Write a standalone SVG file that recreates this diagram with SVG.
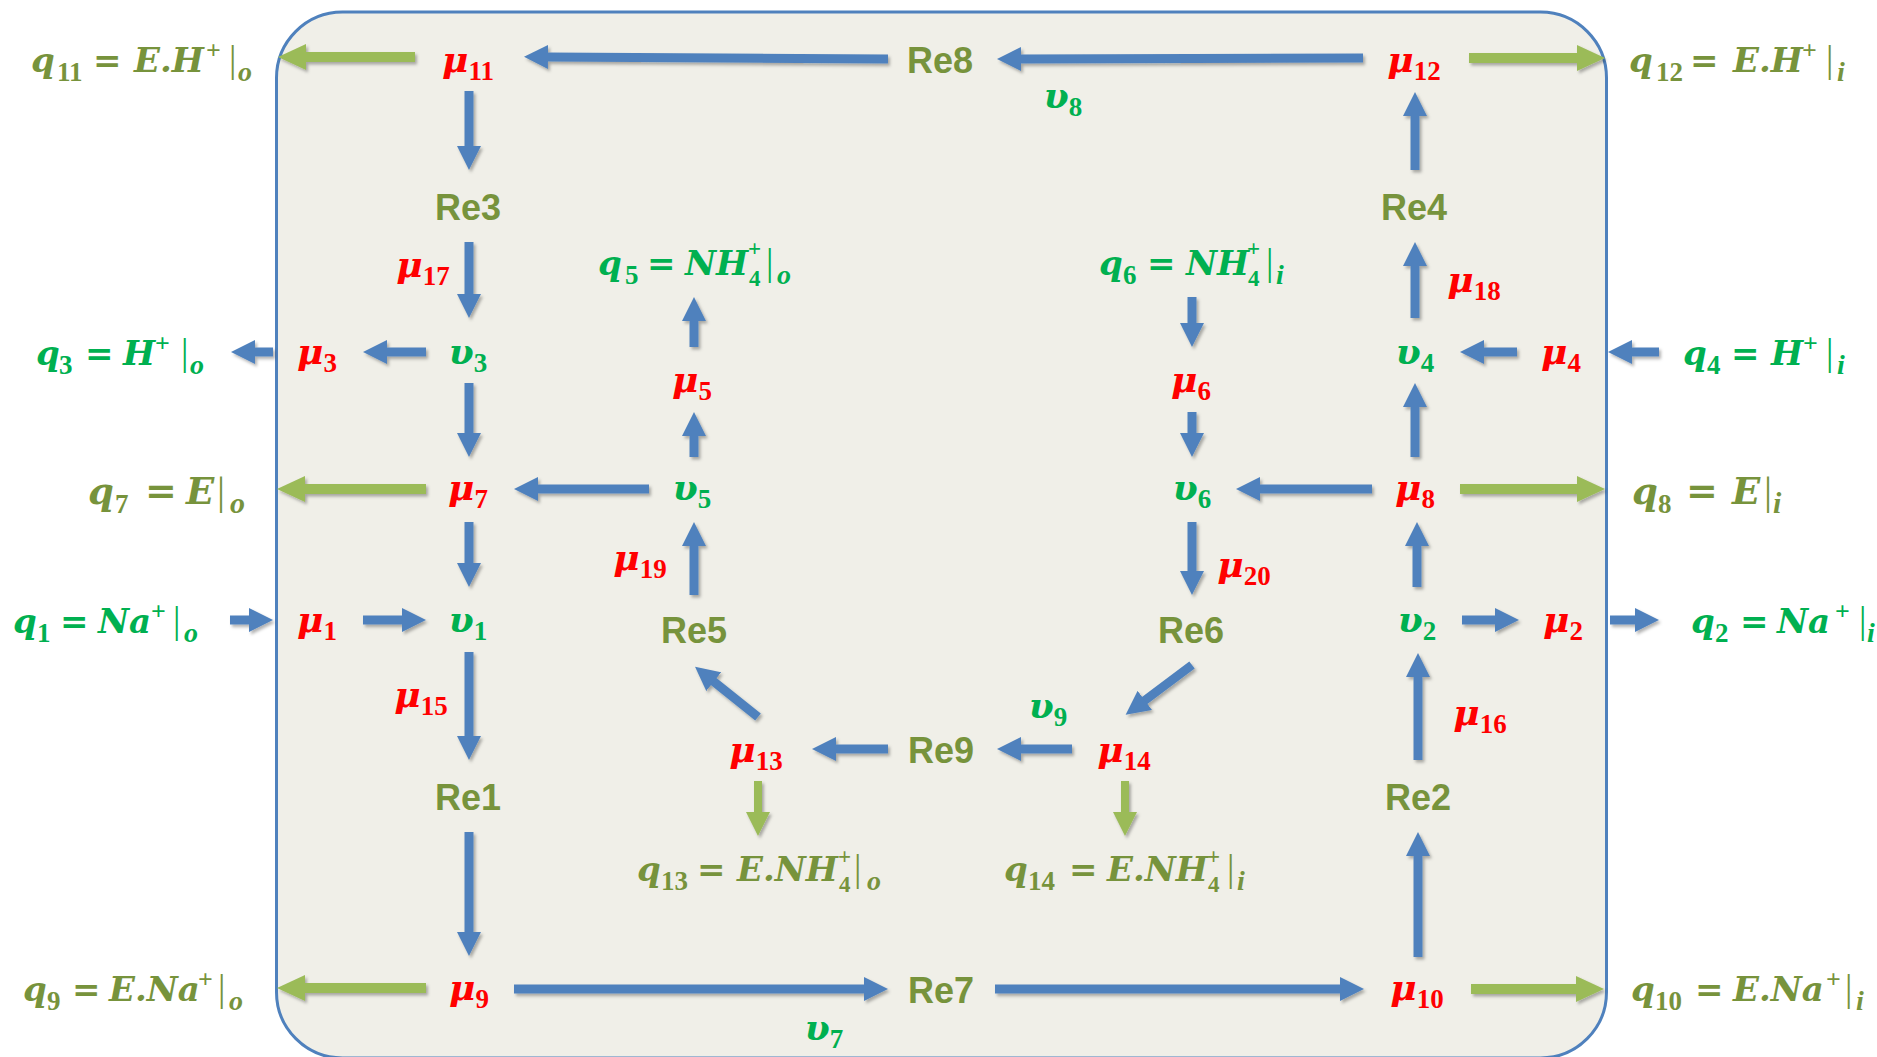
<svg xmlns="http://www.w3.org/2000/svg" width="1877" height="1057" viewBox="0 0 1877 1057">
<defs>
<style>
.m{font-family:"DejaVu Serif",serif;font-weight:bold;font-style:italic;font-size:34px}
.lab{font-size:36px}
.big{font-size:37px}
.sd{font-family:"Liberation Serif",serif;font-weight:bold;font-style:normal;font-size:27px}
.sk{font-family:"Liberation Serif",serif;font-weight:bold;font-style:normal;font-size:23px}
.si{font-family:"Liberation Serif",serif;font-weight:bold;font-style:italic;font-size:28px}
.eq{font-family:"DejaVu Serif",serif;font-weight:bold;font-style:normal;font-size:34px}
.bar{font-family:"Liberation Serif",serif;font-weight:normal;font-style:normal;font-size:37px}
.pl{font-family:"Liberation Serif",serif;font-weight:bold;font-style:normal;font-size:26px}
.re{font-family:"Liberation Sans",Arial,sans-serif;font-weight:bold;font-size:36px;fill:#77933C}
.g{fill:#00B050}.o{fill:#77933C}.r{fill:#FF0000}
.b{stroke:#4F81BD;stroke-width:9;fill:none;marker-end:url(#hb)}
.gr{stroke:#9BBB59;stroke-width:10;fill:none;marker-end:url(#hg)}
.grs{stroke:#9BBB59;stroke-width:8;fill:none;marker-end:url(#hgs)}
</style>
<marker id="hb" markerUnits="userSpaceOnUse" markerWidth="24" markerHeight="24" viewBox="0 0 24 24" refX="1" refY="12" orient="auto"><path d="M0,0 L24,12 L0,24 z" fill="#4F81BD"/></marker>
<marker id="hg" markerUnits="userSpaceOnUse" markerWidth="28" markerHeight="26" viewBox="0 0 28 26" refX="1" refY="13" orient="auto"><path d="M0,0 L28,13 L0,26 z" fill="#9BBB59"/></marker>
<marker id="hgs" markerUnits="userSpaceOnUse" markerWidth="24" markerHeight="24" viewBox="0 0 24 24" refX="1" refY="12" orient="auto"><path d="M0,0 L24,12 L0,24 z" fill="#9BBB59"/></marker>
<filter id="sh" x="-10%" y="-10%" width="120%" height="120%"><feDropShadow dx="2" dy="2.5" stdDeviation="1.5" flood-color="#000" flood-opacity="0.3"/></filter>
</defs>
<rect width="1877" height="1057" fill="#FFFFFF"/>
<rect id="frame" x="276.5" y="12" width="1330" height="1046" rx="66" ry="66" fill="#F0EFE8" stroke="#4F81BD" stroke-width="3"/>

<g id="connectors" filter="url(#sh)">
<line class="b" x1="888" y1="59" x2="547" y2="57"/>
<line class="b" x1="1363" y1="58" x2="1020" y2="59"/>
<line class="b" x1="469" y1="91" x2="469" y2="147"/>
<line class="b" x1="469" y1="242" x2="469" y2="295"/>
<line class="b" x1="426" y1="352" x2="386" y2="352"/>
<line class="b" x1="273" y1="352" x2="254" y2="352"/>
<line class="b" x1="469" y1="383" x2="469" y2="434"/>
<line class="b" x1="649" y1="489" x2="537" y2="489"/>
<line class="b" x1="694" y1="347" x2="694" y2="320"/>
<line class="b" x1="694" y1="457" x2="694" y2="435"/>
<line class="b" x1="694" y1="595" x2="694" y2="545"/>
<line class="b" x1="469" y1="522" x2="469" y2="564"/>
<line class="b" x1="230" y1="620" x2="250" y2="620"/>
<line class="b" x1="363" y1="620" x2="403" y2="620"/>
<line class="b" x1="469" y1="652" x2="469" y2="737"/>
<line class="b" x1="469" y1="832" x2="469" y2="933"/>
<line class="b" x1="514" y1="989" x2="865" y2="989"/>
<line class="b" x1="995" y1="989" x2="1341" y2="989"/>
<line class="b" x1="888" y1="749" x2="835" y2="749"/>
<line class="b" x1="1072" y1="749" x2="1020" y2="749"/>
<line class="b" x1="758" y1="717" x2="713" y2="681"/>
<line class="b" x1="1192" y1="665" x2="1144" y2="701"/>
<line class="b" x1="1192" y1="297" x2="1192" y2="324"/>
<line class="b" x1="1192" y1="412" x2="1192" y2="434"/>
<line class="b" x1="1372" y1="489" x2="1259" y2="489"/>
<line class="b" x1="1192" y1="522" x2="1192" y2="572"/>
<line class="b" x1="1517" y1="352" x2="1483" y2="352"/>
<line class="b" x1="1659" y1="352" x2="1631" y2="352"/>
<line class="b" x1="1415" y1="457" x2="1415" y2="406"/>
<line class="b" x1="1415" y1="318" x2="1415" y2="265"/>
<line class="b" x1="1415" y1="170" x2="1415" y2="115"/>
<line class="b" x1="1417" y1="587" x2="1417" y2="545"/>
<line class="b" x1="1462" y1="620" x2="1496" y2="620"/>
<line class="b" x1="1610" y1="620" x2="1636" y2="620"/>
<line class="b" x1="1418" y1="760" x2="1418" y2="676"/>
<line class="b" x1="1418" y1="957" x2="1418" y2="855"/>
<line class="gr" x1="415" y1="57" x2="305" y2="57"/>
<line class="gr" x1="1469" y1="58" x2="1578" y2="58"/>
<line class="gr" x1="426" y1="489" x2="304" y2="489"/>
<line class="gr" x1="1460" y1="489" x2="1578" y2="489"/>
<line class="gr" x1="426" y1="988" x2="304" y2="988"/>
<line class="gr" x1="1471" y1="989" x2="1577" y2="989"/>
<line class="grs" x1="758" y1="781" x2="758" y2="813"/>
<line class="grs" x1="1125" y1="781" x2="1125" y2="813"/>
</g>

<!-- reaction nodes -->
<g id="Re8"><text class="re" x="940" y="73" text-anchor="middle">Re8</text></g>
<g id="Re3"><text class="re" x="468" y="220" text-anchor="middle">Re3</text></g>
<g id="Re4"><text class="re" x="1414" y="220" text-anchor="middle">Re4</text></g>
<g id="Re5"><text class="re" x="694" y="643" text-anchor="middle">Re5</text></g>
<g id="Re6"><text class="re" x="1191" y="643" text-anchor="middle">Re6</text></g>
<g id="Re9"><text class="re" x="941" y="763" text-anchor="middle">Re9</text></g>
<g id="Re1"><text class="re" x="468" y="810" text-anchor="middle">Re1</text></g>
<g id="Re2"><text class="re" x="1418" y="810" text-anchor="middle">Re2</text></g>
<g id="Re7"><text class="re" x="941" y="1003" text-anchor="middle">Re7</text></g>

<!-- mu nodes -->
<g id="mu11"><text class="m lab r" x="468" y="72" text-anchor="middle">μ<tspan class="sd" dy="8">11</tspan></text></g>
<g id="mu12"><text class="m lab r" x="1414" y="72" text-anchor="middle">μ<tspan class="sd" dy="8">12</tspan></text></g>
<g id="mu17"><text class="m lab r" x="423" y="277" text-anchor="middle">μ<tspan class="sd" dy="8">17</tspan></text></g>
<g id="mu18"><text class="m lab r" x="1474" y="292" text-anchor="middle">μ<tspan class="sd" dy="8">18</tspan></text></g>
<g id="mu3"><text class="m lab r" x="317" y="364" text-anchor="middle">μ<tspan class="sd" dy="8">3</tspan></text></g>
<g id="mu4"><text class="m lab r" x="1561" y="364" text-anchor="middle">μ<tspan class="sd" dy="8">4</tspan></text></g>
<g id="mu5"><text class="m lab r" x="692" y="392" text-anchor="middle">μ<tspan class="sd" dy="8">5</tspan></text></g>
<g id="mu6"><text class="m lab r" x="1191" y="392" text-anchor="middle">μ<tspan class="sd" dy="8">6</tspan></text></g>
<g id="mu7"><text class="m lab r" x="468" y="500" text-anchor="middle">μ<tspan class="sd" dy="8">7</tspan></text></g>
<g id="mu8"><text class="m lab r" x="1415" y="500" text-anchor="middle">μ<tspan class="sd" dy="8">8</tspan></text></g>
<g id="mu19"><text class="m lab r" x="640" y="570" text-anchor="middle">μ<tspan class="sd" dy="8">19</tspan></text></g>
<g id="mu20"><text class="m lab r" x="1244" y="577" text-anchor="middle">μ<tspan class="sd" dy="8">20</tspan></text></g>
<g id="mu1"><text class="m lab r" x="317" y="632" text-anchor="middle">μ<tspan class="sd" dy="8">1</tspan></text></g>
<g id="mu2"><text class="m lab r" x="1563" y="632" text-anchor="middle">μ<tspan class="sd" dy="8">2</tspan></text></g>
<g id="mu15"><text class="m lab r" x="421" y="707" text-anchor="middle">μ<tspan class="sd" dy="8">15</tspan></text></g>
<g id="mu16"><text class="m lab r" x="1480" y="725" text-anchor="middle">μ<tspan class="sd" dy="8">16</tspan></text></g>
<g id="mu13"><text class="m lab r" x="756" y="762" text-anchor="middle">μ<tspan class="sd" dy="8">13</tspan></text></g>
<g id="mu14"><text class="m lab r" x="1124" y="762" text-anchor="middle">μ<tspan class="sd" dy="8">14</tspan></text></g>
<g id="mu9"><text class="m lab r" x="469" y="1000" text-anchor="middle">μ<tspan class="sd" dy="8">9</tspan></text></g>
<g id="mu10"><text class="m lab r" x="1417" y="1000" text-anchor="middle">μ<tspan class="sd" dy="8">10</tspan></text></g>

<!-- upsilon nodes -->
<g id="v8"><text class="m lab g" x="1063" y="108" text-anchor="middle">υ<tspan class="sd" dy="8">8</tspan></text></g>
<g id="v3"><text class="m lab g" x="468" y="364" text-anchor="middle">υ<tspan class="sd" dy="8">3</tspan></text></g>
<g id="v4"><text class="m lab g" x="1415" y="364" text-anchor="middle">υ<tspan class="sd" dy="8">4</tspan></text></g>
<g id="v5"><text class="m lab g" x="692" y="500" text-anchor="middle">υ<tspan class="sd" dy="8">5</tspan></text></g>
<g id="v6"><text class="m lab g" x="1192" y="500" text-anchor="middle">υ<tspan class="sd" dy="8">6</tspan></text></g>
<g id="v1"><text class="m lab g" x="468" y="632" text-anchor="middle">υ<tspan class="sd" dy="8">1</tspan></text></g>
<g id="v2"><text class="m lab g" x="1417" y="632" text-anchor="middle">υ<tspan class="sd" dy="8">2</tspan></text></g>
<g id="v9"><text class="m lab g" x="1048" y="718" text-anchor="middle">υ<tspan class="sd" dy="8">9</tspan></text></g>
<g id="v7"><text class="m lab g" x="824" y="1040" text-anchor="middle">υ<tspan class="sd" dy="8">7</tspan></text></g>

<!-- q labels -->
<g id="q11"><text class="m o"><tspan x="31" y="72">q</tspan><tspan class="sd" x="57" y="81">11</tspan><tspan class="eq" x="93" y="72">=</tspan><tspan x="134" y="72">E.H</tspan><tspan class="pl" x="206" y="59">+</tspan><tspan class="bar" x="229" y="72">|</tspan><tspan class="si" x="238" y="81">o</tspan></text></g>
<g id="q12"><text class="m o"><tspan x="1629" y="72">q</tspan><tspan class="sd" x="1656" y="81">12</tspan><tspan class="eq" x="1690" y="72">=</tspan><tspan x="1733" y="72">E.H</tspan><tspan class="pl" x="1802" y="59">+</tspan><tspan class="bar" x="1826" y="72">|</tspan><tspan class="si" x="1837" y="81">i</tspan></text></g>
<g id="q3"><text class="m g"><tspan x="36" y="365">q</tspan><tspan class="sd" x="59" y="374">3</tspan><tspan class="eq" x="85" y="365">=</tspan><tspan x="123" y="365">H</tspan><tspan class="pl" x="155" y="352">+</tspan><tspan class="bar" x="181" y="365">|</tspan><tspan class="si" x="190" y="374">o</tspan></text></g>
<g id="q4"><text class="m g"><tspan x="1683" y="365">q</tspan><tspan class="sd" x="1707" y="374">4</tspan><tspan class="eq" x="1731" y="365">=</tspan><tspan x="1771" y="365">H</tspan><tspan class="pl" x="1803" y="352">+</tspan><tspan class="bar" x="1826" y="365">|</tspan><tspan class="si" x="1837" y="374">i</tspan></text></g>
<g id="q5"><text class="m g"><tspan x="598" y="275">q</tspan><tspan class="sd" x="625" y="284">5</tspan><tspan class="eq" x="647" y="275">=</tspan><tspan x="685" y="275">NH</tspan><tspan class="sk" x="748" y="256">+</tspan><tspan class="sk" x="749" y="286">4</tspan><tspan class="bar" x="766" y="275">|</tspan><tspan class="si" x="777" y="284">o</tspan></text></g>
<g id="q6"><text class="m g"><tspan x="1099" y="275">q</tspan><tspan class="sd" x="1123" y="284">6</tspan><tspan class="eq" x="1147" y="275">=</tspan><tspan x="1186" y="275">NH</tspan><tspan class="sk" x="1247" y="256">+</tspan><tspan class="sk" x="1248" y="286">4</tspan><tspan class="bar" x="1266" y="275">|</tspan><tspan class="si" x="1276" y="284">i</tspan></text></g>
<g id="q7"><text class="m big o"><tspan x="88" y="504">q</tspan><tspan class="sd" x="115" y="513">7</tspan><tspan class="eq" x="145" y="504" style="font-size:38px">=</tspan><tspan x="186" y="504">E</tspan><tspan class="bar" x="217" y="504" style="font-size:40px">|</tspan><tspan class="si" x="230" y="513" style="font-size:30px">o</tspan></text></g>
<g id="q8"><text class="m big o"><tspan x="1632" y="504">q</tspan><tspan class="sd" x="1658" y="513">8</tspan><tspan class="eq" x="1686" y="504" style="font-size:38px">=</tspan><tspan x="1732" y="504">E</tspan><tspan class="bar" x="1764" y="504" style="font-size:40px">|</tspan><tspan class="si" x="1773" y="513" style="font-size:30px">i</tspan></text></g>
<g id="q1"><text class="m g"><tspan x="13" y="633">q</tspan><tspan class="sd" x="37" y="642">1</tspan><tspan class="eq" x="60" y="633">=</tspan><tspan x="98" y="633">Na</tspan><tspan class="pl" x="151" y="620">+</tspan><tspan class="bar" x="173" y="633">|</tspan><tspan class="si" x="184" y="642">o</tspan></text></g>
<g id="q2"><text class="m g"><tspan x="1691" y="633">q</tspan><tspan class="sd" x="1715" y="642">2</tspan><tspan class="eq" x="1740" y="633">=</tspan><tspan x="1777" y="633">Na</tspan><tspan class="pl" x="1835" y="620">+</tspan><tspan class="bar" x="1859" y="633">|</tspan><tspan class="si" x="1867" y="642">i</tspan></text></g>
<g id="q13"><text class="m o"><tspan x="637" y="881">q</tspan><tspan class="sd" x="661" y="890">13</tspan><tspan class="eq" x="697" y="881">=</tspan><tspan x="737" y="881">E.NH</tspan><tspan class="sk" x="838" y="864">+</tspan><tspan class="sk" x="839" y="892">4</tspan><tspan class="bar" x="854" y="881">|</tspan><tspan class="si" x="867" y="890">o</tspan></text></g>
<g id="q14"><text class="m o"><tspan x="1004" y="881">q</tspan><tspan class="sd" x="1028" y="890">14</tspan><tspan class="eq" x="1069" y="881">=</tspan><tspan x="1107" y="881">E.NH</tspan><tspan class="sk" x="1207" y="864">+</tspan><tspan class="sk" x="1208" y="892">4</tspan><tspan class="bar" x="1227" y="881">|</tspan><tspan class="si" x="1237" y="890">i</tspan></text></g>
<g id="q9"><text class="m o"><tspan x="23" y="1001">q</tspan><tspan class="sd" x="47" y="1010">9</tspan><tspan class="eq" x="72" y="1001">=</tspan><tspan x="109" y="1001">E.Na</tspan><tspan class="pl" x="198" y="988">+</tspan><tspan class="bar" x="218" y="1001">|</tspan><tspan class="si" x="229" y="1010">o</tspan></text></g>
<g id="q10"><text class="m o"><tspan x="1631" y="1001">q</tspan><tspan class="sd" x="1655" y="1010">10</tspan><tspan class="eq" x="1695" y="1001">=</tspan><tspan x="1733" y="1001">E.Na</tspan><tspan class="pl" x="1826" y="988">+</tspan><tspan class="bar" x="1845" y="1001">|</tspan><tspan class="si" x="1856" y="1010">i</tspan></text></g>
</svg>
